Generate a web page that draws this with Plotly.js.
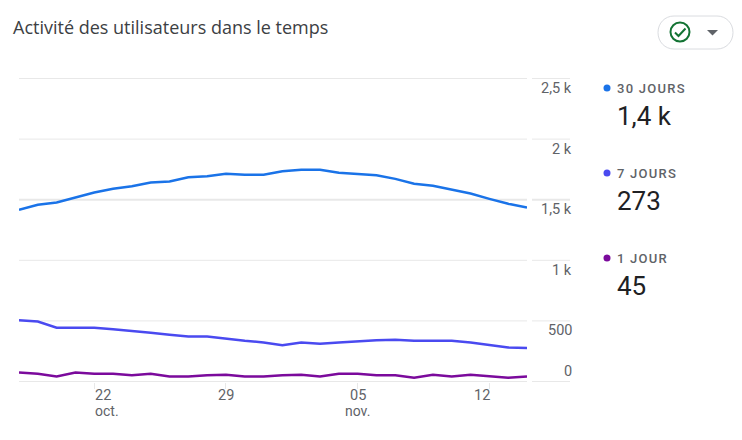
<!DOCTYPE html>
<html><head><meta charset="utf-8">
<script src="https://cdn.plot.ly/plotly-3.0.1.min.js"></script>
<style>html,body{margin:0;padding:0;background:#fff}#c{width:742px;height:440px}</style>
</head><body><div id="c"></div>
<script>
const dates=['2023-10-18','2023-10-19','2023-10-20','2023-10-21','2023-10-22','2023-10-23','2023-10-24','2023-10-25','2023-10-26','2023-10-27','2023-10-28','2023-10-29','2023-10-30','2023-10-31','2023-11-01','2023-11-02','2023-11-03','2023-11-04','2023-11-05','2023-11-06','2023-11-07','2023-11-08','2023-11-09','2023-11-10','2023-11-11','2023-11-12','2023-11-13','2023-11-14'];
const jours30=[1417,1458,1477,1518,1559,1590,1611,1642,1650,1686,1694,1714,1705,1705,1735,1747,1747,1722,1714,1702,1672,1631,1615,1582,1551,1507,1466,1436];
const jours7=[506,495,443,443,443,431,418,402,385,371,371,352,336,322,300,322,311,322,333,341,344,336,336,336,322,303,280,277];
const jours1=[74,63,41,74,63,63,52,63,41,41,52,55,41,41,52,55,41,63,63,52,52,31,55,41,55,41,31,41];
const seriesNames=['30 JOURS','7 JOURS','1 JOUR'];
const seriesTotals=['1,4 k','273','45'];
const seriesColors=['#1a73e8','#4a4af0','#7b0a9c'];
const yTickVals=[0,500,1000,1500,2000,2500];
const yTickText=['0','500','1 k','1,5 k','2 k','2,5 k'];
const xTickVals=['2023-10-22','2023-10-29','2023-11-05','2023-11-12'];
const xTickDay=['22','29','05','12'];
const title='Activité des utilisateurs dans le temps';

const W=742,H=440,L=19,R=527,T=78,B=382;
const px=x=>(x-L)/(R-L), py=y=>(B-y)/(B-T);
const grid='#e8e8e8', textGrey='#5f6368', dark='#202124';
const font='Roboto, sans-serif';
const p=(x,y)=>px(x)+','+py(y);

const traces=[jours30,jours7,jours1].map((v,i)=>({x:dates,y:v,type:'scatter',mode:'lines',name:seriesNames[i],
  line:{color:seriesColors[i],width:2.5},hoverinfo:'x+y'}));

const shapes=[];
yTickVals.forEach(v=>{
  const w=v===1500?2:1;
  shapes.push({type:'line',xref:'paper',yref:'y',x0:px(532),x1:px(570),y0:v,y1:v,line:{color:grid,width:w},layer:'below'});
  shapes.push({type:'line',xref:'paper',yref:'y',x0:0,x1:1,y0:v,y1:v,line:{color:grid,width:w},layer:'below'});
});
seriesNames.forEach((n,i)=>{
  const cy=88+85*i;
  shapes.push({type:'circle',xref:'paper',yref:'paper',x0:px(603.5),x1:px(610.5),y0:py(cy+3.5),y1:py(cy-3.5),fillcolor:seriesColors[i],line:{width:0}});
});
const pl=658,pr=733,pt=16,pb=49,k=9;
shapes.push({type:'path',xref:'paper',yref:'paper',
  path:`M${p(pl+16,pt)} L${p(pr-16,pt)} C${p(pr-k+2,pt)} ${p(pr,pt+k-2)} ${p(pr,(pt+pb)/2)} C${p(pr,pb-k+2)} ${p(pr-k+2,pb)} ${p(pr-16,pb)} L${p(pl+16,pb)} C${p(pl+k-2,pb)} ${p(pl,pb-k+2)} ${p(pl,(pt+pb)/2)} C${p(pl,pt+k-2)} ${p(pl+k-2,pt)} ${p(pl+16,pt)} Z`,
  line:{color:'#dadce0',width:1},fillcolor:'#fff'});
shapes.push({type:'circle',xref:'paper',yref:'paper',x0:px(670.5),x1:px(689.5),y0:py(41.5),y1:py(22.5),line:{color:'#137333',width:2},fillcolor:'rgba(0,0,0,0)'});
shapes.push({type:'path',xref:'paper',yref:'paper',path:`M${p(675,32.5)} L${p(678.5,36)} L${p(685.5,28.5)}`,line:{color:'#137333',width:2}});
shapes.push({type:'path',xref:'paper',yref:'paper',path:`M${p(707,30)} L${p(718,30)} L${p(712.5,35.5)} Z`,fillcolor:'#5f6368',line:{width:0}});

const ann=[];
const add=(o)=>ann.push(Object.assign({showarrow:false,xref:'paper',yref:'paper',font:{family:font,size:14,color:textGrey}},o));
add({text:title,x:px(11),y:py(27),xanchor:'left',yanchor:'middle',font:{family:'"Open Sans", sans-serif',size:18,color:'#3c4043'}});
yTickVals.forEach((v,i)=>{
  add({text:yTickText[i],x:px(573.5),xanchor:'right',yref:'y',y:v,yanchor:'middle',yshift:i===0?10.5:-10,font:{family:font,size:14.5,color:textGrey}});
});
const xAnch=['left','center','center','right'];
xTickVals.forEach((v,i)=>{
  add({text:xTickDay[i],xref:'x',x:v,xanchor:xAnch[i],y:py(395.5),yanchor:'middle',xshift:i===3?3:i===0?-1:0,font:{family:font,size:14.5,color:textGrey}});
});
add({text:'oct.',xref:'x',x:xTickVals[0],xanchor:'left',xshift:-1,y:py(411),yanchor:'middle',font:{family:font,size:14,color:textGrey}});
add({text:'nov.',xref:'x',x:xTickVals[2],xanchor:'center',y:py(411),yanchor:'middle',font:{family:font,size:14,color:textGrey}});
seriesNames.forEach((n,i)=>{
  add({text:n,x:px(615),xanchor:'left',align:'left',y:py(88+85*i),yanchor:'middle',font:{family:font,size:13,weight:500,color:textGrey}});
  add({text:seriesTotals[i],x:px(615),xanchor:'left',y:py(116+85*i),yanchor:'middle',font:{family:font,size:26,color:dark}});
});

Plotly.newPlot('c',traces,{
  width:W,height:H,paper_bgcolor:'#fff',plot_bgcolor:'#fff',showlegend:false,
  margin:{l:L,r:W-R,t:T,b:H-B,pad:0},
  xaxis:{type:'date',range:[dates[0],dates[dates.length-1]],showgrid:false,zeroline:false,showline:false,
    tickmode:'array',tickvals:xTickVals,ticktext:xTickDay,showticklabels:false,ticks:'outside',ticklen:6,tickcolor:grid,tickwidth:1},
  yaxis:{range:[-4.125,2504.125],tickmode:'array',tickvals:yTickVals,ticktext:yTickText,showticklabels:false,showgrid:false,zeroline:false,showline:false,ticks:''},
  shapes:shapes,annotations:ann,font:{family:font}
},{displayModeBar:false}).then(()=>{
  document.querySelectorAll('.annotation-text').forEach(t=>{
    if(seriesNames.includes(t.textContent)) t.style.letterSpacing='1.25px';
  });
});
</script></body></html>
